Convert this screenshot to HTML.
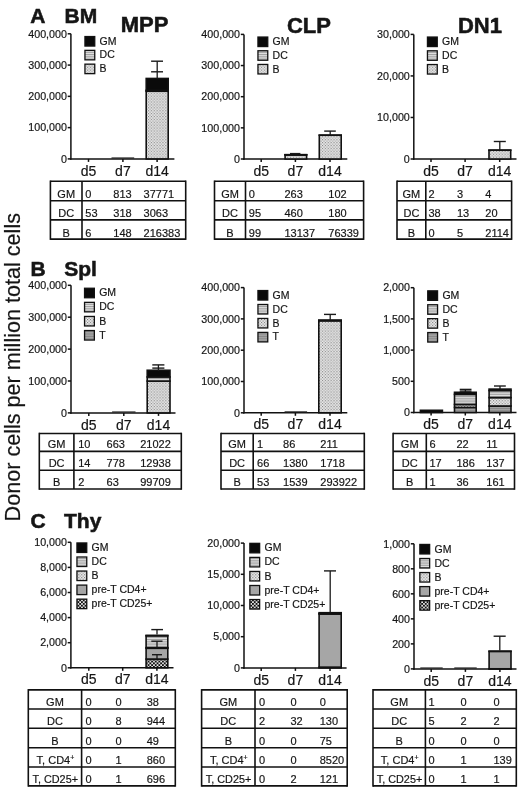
<!DOCTYPE html>
<html><head><meta charset="utf-8"><style>
html,body{margin:0;padding:0;background:#fff;overflow:hidden;width:520px;height:787px;}
svg{display:block;}
text{font-family:"Liberation Sans", sans-serif;fill:#151515;stroke:#151515;stroke-width:0.18px;}
text[font-weight=bold]{stroke-width:0.55px;}
svg{will-change:transform;}
</style></head><body>
<svg width="520" height="787" viewBox="0 0 520 787">
<defs>
<pattern id="pDC" width="4" height="1.8" patternUnits="userSpaceOnUse"><rect width="4" height="1.8" fill="#e2e2e2"/><rect y="0" width="4" height="0.75" fill="#909090"/></pattern>
<pattern id="pB" width="2.9" height="2.9" patternUnits="userSpaceOnUse"><rect width="2.9" height="2.9" fill="#f2f2f2"/><rect x="0" y="0" width="1.15" height="1.15" fill="#7a7a7a"/><rect x="1.45" y="1.45" width="1.15" height="1.15" fill="#7a7a7a"/></pattern>
<pattern id="pT" width="4" height="2.4" patternUnits="userSpaceOnUse"><rect width="4" height="2.4" fill="#a2a2a2"/><rect y="0" width="4" height="0.8" fill="#858585"/></pattern>
<pattern id="pCD4" width="4" height="4" patternUnits="userSpaceOnUse"><rect width="4" height="4" fill="#a6a6a6"/></pattern>
<pattern id="pCD25" width="3.6" height="3.6" patternUnits="userSpaceOnUse"><rect width="3.6" height="3.6" fill="#111"/><rect x="0.1" y="0.1" width="1.7" height="1.7" fill="#f4f4f4"/><rect x="1.9" y="1.9" width="1.7" height="1.7" fill="#f4f4f4"/></pattern>
</defs>
<rect width="520" height="787" fill="#fff"/>
<text x="30.20" y="23.40" font-size="21" text-anchor="start" font-weight="bold" >A</text>
<text x="64.60" y="23.40" font-size="21" text-anchor="start" font-weight="bold" >BM</text>
<text x="30.60" y="275.90" font-size="21" text-anchor="start" font-weight="bold" >B</text>
<text x="64.20" y="275.90" font-size="21" text-anchor="start" font-weight="bold" >Spl</text>
<text x="30.60" y="527.80" font-size="21" text-anchor="start" font-weight="bold" >C</text>
<text x="64.00" y="527.80" font-size="21" text-anchor="start" font-weight="bold" >Thy</text>
<text x="120.80" y="32.40" font-size="22" text-anchor="start" font-weight="bold" >MPP</text>
<text x="286.90" y="32.50" font-size="22" text-anchor="start" font-weight="bold" >CLP</text>
<text x="457.90" y="32.50" font-size="22" text-anchor="start" font-weight="bold" >DN1</text>
<text x="0" y="0" font-size="21.6" text-anchor="middle" transform="translate(20.2,367.2) rotate(-90)">Donor cells per million total cells</text>
<line x1="70.90" y1="33.80" x2="70.90" y2="159.65" stroke="#111" stroke-width="1.5"/>
<line x1="70.15" y1="158.90" x2="174.40" y2="158.90" stroke="#111" stroke-width="1.5"/>
<line x1="67.70" y1="33.80" x2="70.90" y2="33.80" stroke="#111" stroke-width="1.5"/>
<text x="66.90" y="37.50" font-size="10.7" text-anchor="end" font-weight="normal" >400,000</text>
<line x1="67.70" y1="65.08" x2="70.90" y2="65.08" stroke="#111" stroke-width="1.5"/>
<text x="66.90" y="68.78" font-size="10.7" text-anchor="end" font-weight="normal" >300,000</text>
<line x1="67.70" y1="96.35" x2="70.90" y2="96.35" stroke="#111" stroke-width="1.5"/>
<text x="66.90" y="100.05" font-size="10.7" text-anchor="end" font-weight="normal" >200,000</text>
<line x1="67.70" y1="127.62" x2="70.90" y2="127.62" stroke="#111" stroke-width="1.5"/>
<text x="66.90" y="131.32" font-size="10.7" text-anchor="end" font-weight="normal" >100,000</text>
<line x1="67.70" y1="158.90" x2="70.90" y2="158.90" stroke="#111" stroke-width="1.5"/>
<text x="66.90" y="162.60" font-size="10.7" text-anchor="end" font-weight="normal" >0</text>
<line x1="88.50" y1="158.90" x2="88.50" y2="161.90" stroke="#111" stroke-width="1.5"/>
<text x="88.50" y="175.50" font-size="14" text-anchor="middle" font-weight="normal" >d5</text>
<line x1="122.90" y1="158.90" x2="122.90" y2="161.90" stroke="#111" stroke-width="1.5"/>
<text x="122.90" y="175.50" font-size="14" text-anchor="middle" font-weight="normal" >d7</text>
<line x1="157.10" y1="158.90" x2="157.10" y2="161.90" stroke="#111" stroke-width="1.5"/>
<text x="157.10" y="175.50" font-size="14" text-anchor="middle" font-weight="normal" >d14</text>
<rect x="146.20" y="91.23" width="22.00" height="67.67" fill="url(#pB)" stroke="#111" stroke-width="1.6"/>
<rect x="146.20" y="90.27" width="22.00" height="0.96" fill="url(#pDC)" stroke="#111" stroke-width="1.6"/>
<rect x="146.20" y="78.46" width="22.00" height="11.81" fill="#0a0a0a" stroke="#111" stroke-width="1.6"/>
<line x1="111.50" y1="158.00" x2="134.20" y2="158.00" stroke="#222" stroke-width="1.2"/>
<line x1="157.20" y1="61.20" x2="157.20" y2="78.50" stroke="#1a1a1a" stroke-width="1.3"/>
<line x1="151.10" y1="61.20" x2="163.00" y2="61.20" stroke="#1a1a1a" stroke-width="1.4"/>
<line x1="151.10" y1="71.80" x2="163.00" y2="71.80" stroke="#1a1a1a" stroke-width="1.4"/>
<rect x="84.95" y="36.55" width="9.80" height="9.50" fill="#0a0a0a" stroke="#111" stroke-width="1.3"/>
<text x="99.60" y="44.60" font-size="10.5" text-anchor="start" font-weight="normal" >GM</text>
<rect x="84.95" y="50.35" width="9.80" height="9.50" fill="url(#pDC)" stroke="#111" stroke-width="1.3"/>
<text x="99.60" y="58.40" font-size="10.5" text-anchor="start" font-weight="normal" >DC</text>
<rect x="84.95" y="64.15" width="9.80" height="9.50" fill="url(#pB)" stroke="#111" stroke-width="1.3"/>
<text x="99.60" y="72.20" font-size="10.5" text-anchor="start" font-weight="normal" >B</text>
<line x1="244.00" y1="34.40" x2="244.00" y2="159.75" stroke="#111" stroke-width="1.5"/>
<line x1="243.25" y1="159.00" x2="347.30" y2="159.00" stroke="#111" stroke-width="1.5"/>
<line x1="240.80" y1="34.40" x2="244.00" y2="34.40" stroke="#111" stroke-width="1.5"/>
<text x="240.00" y="38.10" font-size="10.7" text-anchor="end" font-weight="normal" >400,000</text>
<line x1="240.80" y1="65.55" x2="244.00" y2="65.55" stroke="#111" stroke-width="1.5"/>
<text x="240.00" y="69.25" font-size="10.7" text-anchor="end" font-weight="normal" >300,000</text>
<line x1="240.80" y1="96.70" x2="244.00" y2="96.70" stroke="#111" stroke-width="1.5"/>
<text x="240.00" y="100.40" font-size="10.7" text-anchor="end" font-weight="normal" >200,000</text>
<line x1="240.80" y1="127.85" x2="244.00" y2="127.85" stroke="#111" stroke-width="1.5"/>
<text x="240.00" y="131.55" font-size="10.7" text-anchor="end" font-weight="normal" >100,000</text>
<line x1="240.80" y1="159.00" x2="244.00" y2="159.00" stroke="#111" stroke-width="1.5"/>
<text x="240.00" y="162.70" font-size="10.7" text-anchor="end" font-weight="normal" >0</text>
<line x1="261.20" y1="159.00" x2="261.20" y2="162.00" stroke="#111" stroke-width="1.5"/>
<text x="261.20" y="175.60" font-size="14" text-anchor="middle" font-weight="normal" >d5</text>
<line x1="295.40" y1="159.00" x2="295.40" y2="162.00" stroke="#111" stroke-width="1.5"/>
<text x="295.40" y="175.60" font-size="14" text-anchor="middle" font-weight="normal" >d7</text>
<line x1="330.00" y1="159.00" x2="330.00" y2="162.00" stroke="#111" stroke-width="1.5"/>
<text x="330.00" y="175.60" font-size="14" text-anchor="middle" font-weight="normal" >d14</text>
<rect x="285.10" y="154.91" width="21.50" height="4.09" fill="url(#pB)" stroke="#111" stroke-width="1.6"/>
<rect x="285.10" y="154.76" width="21.50" height="0.14" fill="url(#pDC)" stroke="#111" stroke-width="1.6"/>
<rect x="285.10" y="154.68" width="21.50" height="0.08" fill="#0a0a0a" stroke="#111" stroke-width="1.6"/>
<rect x="319.30" y="135.22" width="21.90" height="23.78" fill="url(#pB)" stroke="#111" stroke-width="1.6"/>
<rect x="319.30" y="135.16" width="21.90" height="0.06" fill="url(#pDC)" stroke="#111" stroke-width="1.6"/>
<line x1="330.20" y1="131.10" x2="330.20" y2="135.30" stroke="#1a1a1a" stroke-width="1.3"/>
<line x1="324.20" y1="131.10" x2="335.80" y2="131.10" stroke="#1a1a1a" stroke-width="1.4"/>
<line x1="295.85" y1="153.60" x2="295.85" y2="154.80" stroke="#1a1a1a" stroke-width="1.3"/>
<line x1="290.00" y1="153.60" x2="300.40" y2="153.60" stroke="#1a1a1a" stroke-width="1.4"/>
<rect x="257.95" y="37.05" width="9.80" height="9.50" fill="#0a0a0a" stroke="#111" stroke-width="1.3"/>
<text x="272.60" y="45.10" font-size="10.5" text-anchor="start" font-weight="normal" >GM</text>
<rect x="257.95" y="50.75" width="9.80" height="9.50" fill="url(#pDC)" stroke="#111" stroke-width="1.3"/>
<text x="272.60" y="58.80" font-size="10.5" text-anchor="start" font-weight="normal" >DC</text>
<rect x="257.95" y="64.45" width="9.80" height="9.50" fill="url(#pB)" stroke="#111" stroke-width="1.3"/>
<text x="272.60" y="72.50" font-size="10.5" text-anchor="start" font-weight="normal" >B</text>
<line x1="413.80" y1="34.40" x2="413.80" y2="159.75" stroke="#111" stroke-width="1.5"/>
<line x1="413.05" y1="159.00" x2="516.50" y2="159.00" stroke="#111" stroke-width="1.5"/>
<line x1="410.60" y1="34.40" x2="413.80" y2="34.40" stroke="#111" stroke-width="1.5"/>
<text x="409.80" y="38.10" font-size="10.7" text-anchor="end" font-weight="normal" >30,000</text>
<line x1="410.60" y1="75.93" x2="413.80" y2="75.93" stroke="#111" stroke-width="1.5"/>
<text x="409.80" y="79.63" font-size="10.7" text-anchor="end" font-weight="normal" >20,000</text>
<line x1="410.60" y1="117.47" x2="413.80" y2="117.47" stroke="#111" stroke-width="1.5"/>
<text x="409.80" y="121.17" font-size="10.7" text-anchor="end" font-weight="normal" >10,000</text>
<line x1="410.60" y1="159.00" x2="413.80" y2="159.00" stroke="#111" stroke-width="1.5"/>
<text x="409.80" y="162.70" font-size="10.7" text-anchor="end" font-weight="normal" >0</text>
<line x1="431.00" y1="159.00" x2="431.00" y2="162.00" stroke="#111" stroke-width="1.5"/>
<text x="431.00" y="175.60" font-size="14" text-anchor="middle" font-weight="normal" >d5</text>
<line x1="465.10" y1="159.00" x2="465.10" y2="162.00" stroke="#111" stroke-width="1.5"/>
<text x="465.10" y="175.60" font-size="14" text-anchor="middle" font-weight="normal" >d7</text>
<line x1="499.70" y1="159.00" x2="499.70" y2="162.00" stroke="#111" stroke-width="1.5"/>
<text x="499.70" y="175.60" font-size="14" text-anchor="middle" font-weight="normal" >d14</text>
<rect x="489.00" y="150.22" width="21.70" height="8.78" fill="url(#pB)" stroke="#111" stroke-width="1.6"/>
<rect x="489.00" y="150.14" width="21.70" height="0.08" fill="url(#pDC)" stroke="#111" stroke-width="1.6"/>
<line x1="499.80" y1="141.50" x2="499.80" y2="150.00" stroke="#1a1a1a" stroke-width="1.3"/>
<line x1="493.80" y1="141.50" x2="505.80" y2="141.50" stroke="#1a1a1a" stroke-width="1.4"/>
<rect x="427.45" y="37.05" width="9.80" height="9.50" fill="#0a0a0a" stroke="#111" stroke-width="1.3"/>
<text x="442.10" y="45.10" font-size="10.5" text-anchor="start" font-weight="normal" >GM</text>
<rect x="427.45" y="50.80" width="9.80" height="9.50" fill="url(#pDC)" stroke="#111" stroke-width="1.3"/>
<text x="442.10" y="58.85" font-size="10.5" text-anchor="start" font-weight="normal" >DC</text>
<rect x="427.45" y="64.55" width="9.80" height="9.50" fill="url(#pB)" stroke="#111" stroke-width="1.3"/>
<text x="442.10" y="72.60" font-size="10.5" text-anchor="start" font-weight="normal" >B</text>
<line x1="71.00" y1="285.30" x2="71.00" y2="413.65" stroke="#111" stroke-width="1.5"/>
<line x1="70.25" y1="412.90" x2="175.50" y2="412.90" stroke="#111" stroke-width="1.5"/>
<line x1="67.80" y1="285.30" x2="71.00" y2="285.30" stroke="#111" stroke-width="1.5"/>
<text x="67.00" y="289.00" font-size="10.7" text-anchor="end" font-weight="normal" >400,000</text>
<line x1="67.80" y1="317.20" x2="71.00" y2="317.20" stroke="#111" stroke-width="1.5"/>
<text x="67.00" y="320.90" font-size="10.7" text-anchor="end" font-weight="normal" >300,000</text>
<line x1="67.80" y1="349.10" x2="71.00" y2="349.10" stroke="#111" stroke-width="1.5"/>
<text x="67.00" y="352.80" font-size="10.7" text-anchor="end" font-weight="normal" >200,000</text>
<line x1="67.80" y1="381.00" x2="71.00" y2="381.00" stroke="#111" stroke-width="1.5"/>
<text x="67.00" y="384.70" font-size="10.7" text-anchor="end" font-weight="normal" >100,000</text>
<line x1="67.80" y1="412.90" x2="71.00" y2="412.90" stroke="#111" stroke-width="1.5"/>
<text x="67.00" y="416.60" font-size="10.7" text-anchor="end" font-weight="normal" >0</text>
<line x1="88.80" y1="412.90" x2="88.80" y2="415.90" stroke="#111" stroke-width="1.5"/>
<text x="88.80" y="429.50" font-size="14" text-anchor="middle" font-weight="normal" >d5</text>
<line x1="123.80" y1="412.90" x2="123.80" y2="415.90" stroke="#111" stroke-width="1.5"/>
<text x="123.80" y="429.50" font-size="14" text-anchor="middle" font-weight="normal" >d7</text>
<line x1="158.50" y1="412.90" x2="158.50" y2="415.90" stroke="#111" stroke-width="1.5"/>
<text x="158.50" y="429.50" font-size="14" text-anchor="middle" font-weight="normal" >d14</text>
<rect x="147.20" y="381.09" width="22.80" height="31.81" fill="url(#pB)" stroke="#111" stroke-width="1.6"/>
<rect x="147.20" y="376.97" width="22.80" height="4.13" fill="url(#pDC)" stroke="#111" stroke-width="1.6"/>
<rect x="147.20" y="370.26" width="22.80" height="6.71" fill="#0a0a0a" stroke="#111" stroke-width="1.6"/>
<line x1="112.10" y1="412.00" x2="135.50" y2="412.00" stroke="#222" stroke-width="1.2"/>
<line x1="158.40" y1="364.90" x2="158.40" y2="371.00" stroke="#1a1a1a" stroke-width="1.3"/>
<line x1="152.30" y1="364.90" x2="164.40" y2="364.90" stroke="#1a1a1a" stroke-width="1.4"/>
<line x1="152.30" y1="368.10" x2="164.40" y2="368.10" stroke="#1a1a1a" stroke-width="1.4"/>
<rect x="84.55" y="288.25" width="9.80" height="9.50" fill="#0a0a0a" stroke="#111" stroke-width="1.3"/>
<text x="99.20" y="296.30" font-size="10.5" text-anchor="start" font-weight="normal" >GM</text>
<rect x="84.55" y="302.35" width="9.80" height="9.50" fill="url(#pDC)" stroke="#111" stroke-width="1.3"/>
<text x="99.20" y="310.40" font-size="10.5" text-anchor="start" font-weight="normal" >DC</text>
<rect x="84.55" y="316.45" width="9.80" height="9.50" fill="url(#pB)" stroke="#111" stroke-width="1.3"/>
<text x="99.20" y="324.50" font-size="10.5" text-anchor="start" font-weight="normal" >B</text>
<rect x="84.55" y="330.55" width="9.80" height="9.50" fill="url(#pT)" stroke="#111" stroke-width="1.3"/>
<text x="99.20" y="338.60" font-size="10.5" text-anchor="start" font-weight="normal" >T</text>
<line x1="244.00" y1="287.60" x2="244.00" y2="413.55" stroke="#111" stroke-width="1.5"/>
<line x1="243.25" y1="412.80" x2="347.30" y2="412.80" stroke="#111" stroke-width="1.5"/>
<line x1="240.80" y1="287.60" x2="244.00" y2="287.60" stroke="#111" stroke-width="1.5"/>
<text x="240.00" y="291.30" font-size="10.7" text-anchor="end" font-weight="normal" >400,000</text>
<line x1="240.80" y1="318.90" x2="244.00" y2="318.90" stroke="#111" stroke-width="1.5"/>
<text x="240.00" y="322.60" font-size="10.7" text-anchor="end" font-weight="normal" >300,000</text>
<line x1="240.80" y1="350.20" x2="244.00" y2="350.20" stroke="#111" stroke-width="1.5"/>
<text x="240.00" y="353.90" font-size="10.7" text-anchor="end" font-weight="normal" >200,000</text>
<line x1="240.80" y1="381.50" x2="244.00" y2="381.50" stroke="#111" stroke-width="1.5"/>
<text x="240.00" y="385.20" font-size="10.7" text-anchor="end" font-weight="normal" >100,000</text>
<line x1="240.80" y1="412.80" x2="244.00" y2="412.80" stroke="#111" stroke-width="1.5"/>
<text x="240.00" y="416.50" font-size="10.7" text-anchor="end" font-weight="normal" >0</text>
<line x1="261.20" y1="412.80" x2="261.20" y2="415.80" stroke="#111" stroke-width="1.5"/>
<text x="261.20" y="429.40" font-size="14" text-anchor="middle" font-weight="normal" >d5</text>
<line x1="295.40" y1="412.80" x2="295.40" y2="415.80" stroke="#111" stroke-width="1.5"/>
<text x="295.40" y="429.40" font-size="14" text-anchor="middle" font-weight="normal" >d7</text>
<line x1="330.00" y1="412.80" x2="330.00" y2="415.80" stroke="#111" stroke-width="1.5"/>
<text x="330.00" y="429.40" font-size="14" text-anchor="middle" font-weight="normal" >d14</text>
<line x1="284.60" y1="411.90" x2="307.10" y2="411.90" stroke="#222" stroke-width="1.2"/>
<rect x="318.80" y="320.80" width="22.40" height="92.00" fill="url(#pB)" stroke="#111" stroke-width="1.6"/>
<rect x="318.80" y="320.26" width="22.40" height="0.54" fill="url(#pDC)" stroke="#111" stroke-width="1.6"/>
<rect x="318.80" y="320.20" width="22.40" height="0.07" fill="#0a0a0a" stroke="#111" stroke-width="1.6"/>
<line x1="330.20" y1="314.40" x2="330.20" y2="320.50" stroke="#1a1a1a" stroke-width="1.3"/>
<line x1="324.00" y1="314.40" x2="336.00" y2="314.40" stroke="#1a1a1a" stroke-width="1.4"/>
<rect x="257.95" y="290.55" width="9.80" height="9.50" fill="#0a0a0a" stroke="#111" stroke-width="1.3"/>
<text x="272.60" y="298.60" font-size="10.5" text-anchor="start" font-weight="normal" >GM</text>
<rect x="257.95" y="304.50" width="9.80" height="9.50" fill="url(#pDC)" stroke="#111" stroke-width="1.3"/>
<text x="272.60" y="312.55" font-size="10.5" text-anchor="start" font-weight="normal" >DC</text>
<rect x="257.95" y="318.45" width="9.80" height="9.50" fill="url(#pB)" stroke="#111" stroke-width="1.3"/>
<text x="272.60" y="326.50" font-size="10.5" text-anchor="start" font-weight="normal" >B</text>
<rect x="257.95" y="332.40" width="9.80" height="9.50" fill="url(#pT)" stroke="#111" stroke-width="1.3"/>
<text x="272.60" y="340.45" font-size="10.5" text-anchor="start" font-weight="normal" >T</text>
<line x1="413.90" y1="287.70" x2="413.90" y2="413.25" stroke="#111" stroke-width="1.5"/>
<line x1="413.15" y1="412.50" x2="516.50" y2="412.50" stroke="#111" stroke-width="1.5"/>
<line x1="410.70" y1="287.70" x2="413.90" y2="287.70" stroke="#111" stroke-width="1.5"/>
<text x="409.90" y="291.40" font-size="10.7" text-anchor="end" font-weight="normal" >2,000</text>
<line x1="410.70" y1="318.90" x2="413.90" y2="318.90" stroke="#111" stroke-width="1.5"/>
<text x="409.90" y="322.60" font-size="10.7" text-anchor="end" font-weight="normal" >1,500</text>
<line x1="410.70" y1="350.10" x2="413.90" y2="350.10" stroke="#111" stroke-width="1.5"/>
<text x="409.90" y="353.80" font-size="10.7" text-anchor="end" font-weight="normal" >1,000</text>
<line x1="410.70" y1="381.30" x2="413.90" y2="381.30" stroke="#111" stroke-width="1.5"/>
<text x="409.90" y="385.00" font-size="10.7" text-anchor="end" font-weight="normal" >500</text>
<line x1="410.70" y1="412.50" x2="413.90" y2="412.50" stroke="#111" stroke-width="1.5"/>
<text x="409.90" y="416.20" font-size="10.7" text-anchor="end" font-weight="normal" >0</text>
<line x1="431.10" y1="412.50" x2="431.10" y2="415.50" stroke="#111" stroke-width="1.5"/>
<text x="431.10" y="429.10" font-size="14" text-anchor="middle" font-weight="normal" >d5</text>
<line x1="465.30" y1="412.50" x2="465.30" y2="415.50" stroke="#111" stroke-width="1.5"/>
<text x="465.30" y="429.10" font-size="14" text-anchor="middle" font-weight="normal" >d7</text>
<line x1="499.80" y1="412.50" x2="499.80" y2="415.50" stroke="#111" stroke-width="1.5"/>
<text x="499.80" y="429.10" font-size="14" text-anchor="middle" font-weight="normal" >d14</text>
<rect x="420.40" y="410.30" width="22.00" height="2.20" fill="#0a0a0a" stroke="#111" stroke-width="1.6"/>
<rect x="454.50" y="407.40" width="21.70" height="5.10" fill="url(#pT)" stroke="#111" stroke-width="1.6"/>
<rect x="454.50" y="404.50" width="21.70" height="2.90" fill="url(#pB)" stroke="#111" stroke-width="1.6"/>
<rect x="454.50" y="394.40" width="21.70" height="10.10" fill="url(#pDC)" stroke="#111" stroke-width="1.6"/>
<rect x="454.50" y="392.30" width="21.70" height="2.10" fill="#0a0a0a" stroke="#111" stroke-width="1.6"/>
<rect x="489.10" y="406.00" width="21.90" height="6.50" fill="url(#pT)" stroke="#111" stroke-width="1.6"/>
<rect x="489.10" y="397.60" width="21.90" height="8.40" fill="url(#pB)" stroke="#111" stroke-width="1.6"/>
<rect x="489.10" y="390.50" width="21.90" height="7.10" fill="url(#pDC)" stroke="#111" stroke-width="1.6"/>
<rect x="489.10" y="389.10" width="21.90" height="1.40" fill="#0a0a0a" stroke="#111" stroke-width="1.6"/>
<line x1="465.40" y1="389.40" x2="465.40" y2="392.30" stroke="#1a1a1a" stroke-width="1.3"/>
<line x1="459.70" y1="389.40" x2="471.50" y2="389.40" stroke="#1a1a1a" stroke-width="1.4"/>
<line x1="459.70" y1="391.10" x2="471.50" y2="391.10" stroke="#1a1a1a" stroke-width="1.4"/>
<line x1="500.00" y1="386.00" x2="500.00" y2="389.10" stroke="#1a1a1a" stroke-width="1.3"/>
<line x1="494.00" y1="386.00" x2="505.80" y2="386.00" stroke="#1a1a1a" stroke-width="1.4"/>
<rect x="427.75" y="290.85" width="9.80" height="9.50" fill="#0a0a0a" stroke="#111" stroke-width="1.3"/>
<text x="442.40" y="298.90" font-size="10.5" text-anchor="start" font-weight="normal" >GM</text>
<rect x="427.75" y="304.75" width="9.80" height="9.50" fill="url(#pDC)" stroke="#111" stroke-width="1.3"/>
<text x="442.40" y="312.80" font-size="10.5" text-anchor="start" font-weight="normal" >DC</text>
<rect x="427.75" y="318.65" width="9.80" height="9.50" fill="url(#pB)" stroke="#111" stroke-width="1.3"/>
<text x="442.40" y="326.70" font-size="10.5" text-anchor="start" font-weight="normal" >B</text>
<rect x="427.75" y="332.55" width="9.80" height="9.50" fill="url(#pT)" stroke="#111" stroke-width="1.3"/>
<text x="442.40" y="340.60" font-size="10.5" text-anchor="start" font-weight="normal" >T</text>
<line x1="70.90" y1="542.30" x2="70.90" y2="668.55" stroke="#111" stroke-width="1.5"/>
<line x1="70.15" y1="667.80" x2="173.50" y2="667.80" stroke="#111" stroke-width="1.5"/>
<line x1="67.70" y1="542.30" x2="70.90" y2="542.30" stroke="#111" stroke-width="1.5"/>
<text x="66.90" y="546.00" font-size="10.7" text-anchor="end" font-weight="normal" >10,000</text>
<line x1="67.70" y1="567.40" x2="70.90" y2="567.40" stroke="#111" stroke-width="1.5"/>
<text x="66.90" y="571.10" font-size="10.7" text-anchor="end" font-weight="normal" >8,000</text>
<line x1="67.70" y1="592.50" x2="70.90" y2="592.50" stroke="#111" stroke-width="1.5"/>
<text x="66.90" y="596.20" font-size="10.7" text-anchor="end" font-weight="normal" >6,000</text>
<line x1="67.70" y1="617.60" x2="70.90" y2="617.60" stroke="#111" stroke-width="1.5"/>
<text x="66.90" y="621.30" font-size="10.7" text-anchor="end" font-weight="normal" >4,000</text>
<line x1="67.70" y1="642.70" x2="70.90" y2="642.70" stroke="#111" stroke-width="1.5"/>
<text x="66.90" y="646.40" font-size="10.7" text-anchor="end" font-weight="normal" >2,000</text>
<line x1="67.70" y1="667.80" x2="70.90" y2="667.80" stroke="#111" stroke-width="1.5"/>
<text x="66.90" y="671.50" font-size="10.7" text-anchor="end" font-weight="normal" >0</text>
<line x1="88.80" y1="667.80" x2="88.80" y2="670.80" stroke="#111" stroke-width="1.5"/>
<text x="88.80" y="684.40" font-size="14" text-anchor="middle" font-weight="normal" >d5</text>
<line x1="122.70" y1="667.80" x2="122.70" y2="670.80" stroke="#111" stroke-width="1.5"/>
<text x="122.70" y="684.40" font-size="14" text-anchor="middle" font-weight="normal" >d7</text>
<line x1="156.90" y1="667.80" x2="156.90" y2="670.80" stroke="#111" stroke-width="1.5"/>
<text x="156.90" y="684.40" font-size="14" text-anchor="middle" font-weight="normal" >d14</text>
<rect x="146.10" y="659.07" width="21.70" height="8.73" fill="url(#pCD25)" stroke="#111" stroke-width="1.6"/>
<rect x="146.10" y="648.27" width="21.70" height="10.79" fill="url(#pCD4)" stroke="#111" stroke-width="1.6"/>
<rect x="146.10" y="647.66" width="21.70" height="0.61" fill="url(#pB)" stroke="#111" stroke-width="1.6"/>
<rect x="146.10" y="635.81" width="21.70" height="11.85" fill="url(#pDC)" stroke="#111" stroke-width="1.6"/>
<rect x="146.10" y="635.33" width="21.70" height="0.48" fill="#0a0a0a" stroke="#111" stroke-width="1.6"/>
<line x1="157.00" y1="629.60" x2="157.00" y2="634.40" stroke="#1a1a1a" stroke-width="1.3"/>
<line x1="151.30" y1="629.60" x2="163.00" y2="629.60" stroke="#1a1a1a" stroke-width="1.4"/>
<line x1="157.00" y1="641.20" x2="157.00" y2="648.00" stroke="#1a1a1a" stroke-width="1.3"/>
<line x1="151.30" y1="641.20" x2="162.50" y2="641.20" stroke="#1a1a1a" stroke-width="1.4"/>
<line x1="157.00" y1="654.70" x2="157.00" y2="659.50" stroke="#1a1a1a" stroke-width="1.3"/>
<line x1="152.00" y1="654.70" x2="162.00" y2="654.70" stroke="#1a1a1a" stroke-width="1.4"/>
<rect x="76.95" y="542.95" width="9.80" height="9.50" fill="#0a0a0a" stroke="#111" stroke-width="1.3"/>
<text x="91.60" y="551.00" font-size="10.5" text-anchor="start" font-weight="normal" >GM</text>
<rect x="76.95" y="557.00" width="9.80" height="9.50" fill="url(#pDC)" stroke="#111" stroke-width="1.3"/>
<text x="91.60" y="565.05" font-size="10.5" text-anchor="start" font-weight="normal" >DC</text>
<rect x="76.95" y="571.05" width="9.80" height="9.50" fill="url(#pB)" stroke="#111" stroke-width="1.3"/>
<text x="91.60" y="579.10" font-size="10.5" text-anchor="start" font-weight="normal" >B</text>
<rect x="76.95" y="585.10" width="9.80" height="9.50" fill="url(#pCD4)" stroke="#111" stroke-width="1.3"/>
<text x="91.60" y="593.15" font-size="10.5" text-anchor="start" font-weight="normal" >pre-T CD4+</text>
<rect x="76.95" y="599.15" width="9.80" height="9.50" fill="url(#pCD25)" stroke="#111" stroke-width="1.3"/>
<text x="91.60" y="607.20" font-size="10.5" text-anchor="start" font-weight="normal" >pre-T CD25+</text>
<line x1="244.00" y1="543.10" x2="244.00" y2="668.65" stroke="#111" stroke-width="1.5"/>
<line x1="243.25" y1="667.90" x2="346.60" y2="667.90" stroke="#111" stroke-width="1.5"/>
<line x1="240.80" y1="543.10" x2="244.00" y2="543.10" stroke="#111" stroke-width="1.5"/>
<text x="240.00" y="546.80" font-size="10.7" text-anchor="end" font-weight="normal" >20,000</text>
<line x1="240.80" y1="574.30" x2="244.00" y2="574.30" stroke="#111" stroke-width="1.5"/>
<text x="240.00" y="578.00" font-size="10.7" text-anchor="end" font-weight="normal" >15,000</text>
<line x1="240.80" y1="605.50" x2="244.00" y2="605.50" stroke="#111" stroke-width="1.5"/>
<text x="240.00" y="609.20" font-size="10.7" text-anchor="end" font-weight="normal" >10,000</text>
<line x1="240.80" y1="636.70" x2="244.00" y2="636.70" stroke="#111" stroke-width="1.5"/>
<text x="240.00" y="640.40" font-size="10.7" text-anchor="end" font-weight="normal" >5,000</text>
<line x1="240.80" y1="667.90" x2="244.00" y2="667.90" stroke="#111" stroke-width="1.5"/>
<text x="240.00" y="671.60" font-size="10.7" text-anchor="end" font-weight="normal" >0</text>
<line x1="261.20" y1="667.90" x2="261.20" y2="670.90" stroke="#111" stroke-width="1.5"/>
<text x="261.20" y="684.50" font-size="14" text-anchor="middle" font-weight="normal" >d5</text>
<line x1="295.40" y1="667.90" x2="295.40" y2="670.90" stroke="#111" stroke-width="1.5"/>
<text x="295.40" y="684.50" font-size="14" text-anchor="middle" font-weight="normal" >d7</text>
<line x1="330.00" y1="667.90" x2="330.00" y2="670.90" stroke="#111" stroke-width="1.5"/>
<text x="330.00" y="684.50" font-size="14" text-anchor="middle" font-weight="normal" >d14</text>
<rect x="319.10" y="667.14" width="22.10" height="0.76" fill="url(#pCD25)" stroke="#111" stroke-width="1.6"/>
<rect x="319.10" y="613.98" width="22.10" height="53.16" fill="url(#pCD4)" stroke="#111" stroke-width="1.6"/>
<rect x="319.10" y="613.51" width="22.10" height="0.47" fill="url(#pB)" stroke="#111" stroke-width="1.6"/>
<rect x="319.10" y="612.70" width="22.10" height="0.81" fill="url(#pDC)" stroke="#111" stroke-width="1.6"/>
<line x1="330.20" y1="570.90" x2="330.20" y2="612.50" stroke="#1a1a1a" stroke-width="1.3"/>
<line x1="324.00" y1="570.90" x2="336.00" y2="570.90" stroke="#1a1a1a" stroke-width="1.4"/>
<rect x="249.85" y="543.35" width="9.80" height="9.50" fill="#0a0a0a" stroke="#111" stroke-width="1.3"/>
<text x="264.50" y="551.40" font-size="10.5" text-anchor="start" font-weight="normal" >GM</text>
<rect x="249.85" y="557.40" width="9.80" height="9.50" fill="url(#pDC)" stroke="#111" stroke-width="1.3"/>
<text x="264.50" y="565.45" font-size="10.5" text-anchor="start" font-weight="normal" >DC</text>
<rect x="249.85" y="571.45" width="9.80" height="9.50" fill="url(#pB)" stroke="#111" stroke-width="1.3"/>
<text x="264.50" y="579.50" font-size="10.5" text-anchor="start" font-weight="normal" >B</text>
<rect x="249.85" y="585.50" width="9.80" height="9.50" fill="url(#pCD4)" stroke="#111" stroke-width="1.3"/>
<text x="264.50" y="593.55" font-size="10.5" text-anchor="start" font-weight="normal" >pre-T CD4+</text>
<rect x="249.85" y="599.55" width="9.80" height="9.50" fill="url(#pCD25)" stroke="#111" stroke-width="1.3"/>
<text x="264.50" y="607.60" font-size="10.5" text-anchor="start" font-weight="normal" >pre-T CD25+</text>
<line x1="414.00" y1="543.80" x2="414.00" y2="669.65" stroke="#111" stroke-width="1.5"/>
<line x1="413.25" y1="668.90" x2="516.50" y2="668.90" stroke="#111" stroke-width="1.5"/>
<line x1="410.80" y1="543.80" x2="414.00" y2="543.80" stroke="#111" stroke-width="1.5"/>
<text x="410.00" y="547.50" font-size="10.7" text-anchor="end" font-weight="normal" >1,000</text>
<line x1="410.80" y1="568.82" x2="414.00" y2="568.82" stroke="#111" stroke-width="1.5"/>
<text x="410.00" y="572.52" font-size="10.7" text-anchor="end" font-weight="normal" >800</text>
<line x1="410.80" y1="593.84" x2="414.00" y2="593.84" stroke="#111" stroke-width="1.5"/>
<text x="410.00" y="597.54" font-size="10.7" text-anchor="end" font-weight="normal" >600</text>
<line x1="410.80" y1="618.86" x2="414.00" y2="618.86" stroke="#111" stroke-width="1.5"/>
<text x="410.00" y="622.56" font-size="10.7" text-anchor="end" font-weight="normal" >400</text>
<line x1="410.80" y1="643.88" x2="414.00" y2="643.88" stroke="#111" stroke-width="1.5"/>
<text x="410.00" y="647.58" font-size="10.7" text-anchor="end" font-weight="normal" >200</text>
<line x1="410.80" y1="668.90" x2="414.00" y2="668.90" stroke="#111" stroke-width="1.5"/>
<text x="410.00" y="672.60" font-size="10.7" text-anchor="end" font-weight="normal" >0</text>
<line x1="431.20" y1="668.90" x2="431.20" y2="671.90" stroke="#111" stroke-width="1.5"/>
<text x="431.20" y="685.50" font-size="14" text-anchor="middle" font-weight="normal" >d5</text>
<line x1="465.40" y1="668.90" x2="465.40" y2="671.90" stroke="#111" stroke-width="1.5"/>
<text x="465.40" y="685.50" font-size="14" text-anchor="middle" font-weight="normal" >d7</text>
<line x1="499.90" y1="668.90" x2="499.90" y2="671.90" stroke="#111" stroke-width="1.5"/>
<text x="499.90" y="685.50" font-size="14" text-anchor="middle" font-weight="normal" >d14</text>
<rect x="489.10" y="668.77" width="21.90" height="0.13" fill="url(#pCD25)" stroke="#111" stroke-width="1.6"/>
<rect x="489.10" y="651.39" width="21.90" height="17.39" fill="url(#pCD4)" stroke="#111" stroke-width="1.6"/>
<rect x="489.10" y="651.14" width="21.90" height="0.25" fill="url(#pDC)" stroke="#111" stroke-width="1.6"/>
<line x1="420.30" y1="668.00" x2="442.70" y2="668.00" stroke="#222" stroke-width="1.2"/>
<line x1="454.30" y1="668.00" x2="476.70" y2="668.00" stroke="#222" stroke-width="1.2"/>
<line x1="499.80" y1="636.20" x2="499.80" y2="650.50" stroke="#1a1a1a" stroke-width="1.3"/>
<line x1="493.60" y1="636.20" x2="505.70" y2="636.20" stroke="#1a1a1a" stroke-width="1.4"/>
<rect x="419.85" y="544.45" width="9.80" height="9.50" fill="#0a0a0a" stroke="#111" stroke-width="1.3"/>
<text x="434.50" y="552.50" font-size="10.5" text-anchor="start" font-weight="normal" >GM</text>
<rect x="419.85" y="558.50" width="9.80" height="9.50" fill="url(#pDC)" stroke="#111" stroke-width="1.3"/>
<text x="434.50" y="566.55" font-size="10.5" text-anchor="start" font-weight="normal" >DC</text>
<rect x="419.85" y="572.55" width="9.80" height="9.50" fill="url(#pB)" stroke="#111" stroke-width="1.3"/>
<text x="434.50" y="580.60" font-size="10.5" text-anchor="start" font-weight="normal" >B</text>
<rect x="419.85" y="586.60" width="9.80" height="9.50" fill="url(#pCD4)" stroke="#111" stroke-width="1.3"/>
<text x="434.50" y="594.65" font-size="10.5" text-anchor="start" font-weight="normal" >pre-T CD4+</text>
<rect x="419.85" y="600.65" width="9.80" height="9.50" fill="url(#pCD25)" stroke="#111" stroke-width="1.3"/>
<text x="434.50" y="608.70" font-size="10.5" text-anchor="start" font-weight="normal" >pre-T CD25+</text>
<line x1="50.40" y1="181.30" x2="185.70" y2="181.30" stroke="#111" stroke-width="1.6"/>
<line x1="50.40" y1="239.10" x2="185.70" y2="239.10" stroke="#111" stroke-width="1.6"/>
<line x1="50.40" y1="200.70" x2="185.70" y2="200.70" stroke="#111" stroke-width="1.6"/>
<line x1="50.40" y1="219.90" x2="185.70" y2="219.90" stroke="#111" stroke-width="1.6"/>
<line x1="50.40" y1="180.50" x2="50.40" y2="239.90" stroke="#111" stroke-width="1.6"/>
<line x1="185.70" y1="180.50" x2="185.70" y2="239.90" stroke="#111" stroke-width="1.6"/>
<line x1="82.00" y1="181.30" x2="82.00" y2="239.10" stroke="#111" stroke-width="1.6"/>
<text x="66.20" y="198.10" font-size="11" text-anchor="middle" font-weight="normal" >GM</text>
<text x="85.30" y="198.10" font-size="11" text-anchor="start" font-weight="normal" >0</text>
<text x="113.30" y="198.10" font-size="11" text-anchor="start" font-weight="normal" >813</text>
<text x="143.60" y="198.10" font-size="11" text-anchor="start" font-weight="normal" >37771</text>
<text x="66.20" y="217.30" font-size="11" text-anchor="middle" font-weight="normal" >DC</text>
<text x="85.30" y="217.30" font-size="11" text-anchor="start" font-weight="normal" >53</text>
<text x="113.30" y="217.30" font-size="11" text-anchor="start" font-weight="normal" >318</text>
<text x="143.60" y="217.30" font-size="11" text-anchor="start" font-weight="normal" >3063</text>
<text x="66.20" y="236.50" font-size="11" text-anchor="middle" font-weight="normal" >B</text>
<text x="85.30" y="236.50" font-size="11" text-anchor="start" font-weight="normal" >6</text>
<text x="113.30" y="236.50" font-size="11" text-anchor="start" font-weight="normal" >148</text>
<text x="143.60" y="236.50" font-size="11" text-anchor="start" font-weight="normal" >216383</text>
<line x1="214.50" y1="181.30" x2="363.60" y2="181.30" stroke="#111" stroke-width="1.6"/>
<line x1="214.50" y1="239.10" x2="363.60" y2="239.10" stroke="#111" stroke-width="1.6"/>
<line x1="214.50" y1="200.70" x2="363.60" y2="200.70" stroke="#111" stroke-width="1.6"/>
<line x1="214.50" y1="219.90" x2="363.60" y2="219.90" stroke="#111" stroke-width="1.6"/>
<line x1="214.50" y1="180.50" x2="214.50" y2="239.90" stroke="#111" stroke-width="1.6"/>
<line x1="363.60" y1="180.50" x2="363.60" y2="239.90" stroke="#111" stroke-width="1.6"/>
<line x1="245.50" y1="181.30" x2="245.50" y2="239.10" stroke="#111" stroke-width="1.6"/>
<text x="230.00" y="198.10" font-size="11" text-anchor="middle" font-weight="normal" >GM</text>
<text x="248.80" y="198.10" font-size="11" text-anchor="start" font-weight="normal" >0</text>
<text x="284.50" y="198.10" font-size="11" text-anchor="start" font-weight="normal" >263</text>
<text x="328.30" y="198.10" font-size="11" text-anchor="start" font-weight="normal" >102</text>
<text x="230.00" y="217.30" font-size="11" text-anchor="middle" font-weight="normal" >DC</text>
<text x="248.80" y="217.30" font-size="11" text-anchor="start" font-weight="normal" >95</text>
<text x="284.50" y="217.30" font-size="11" text-anchor="start" font-weight="normal" >460</text>
<text x="328.30" y="217.30" font-size="11" text-anchor="start" font-weight="normal" >180</text>
<text x="230.00" y="236.50" font-size="11" text-anchor="middle" font-weight="normal" >B</text>
<text x="248.80" y="236.50" font-size="11" text-anchor="start" font-weight="normal" >99</text>
<text x="284.50" y="236.50" font-size="11" text-anchor="start" font-weight="normal" >13137</text>
<text x="328.30" y="236.50" font-size="11" text-anchor="start" font-weight="normal" >76339</text>
<line x1="397.00" y1="181.30" x2="511.60" y2="181.30" stroke="#111" stroke-width="1.6"/>
<line x1="397.00" y1="239.10" x2="511.60" y2="239.10" stroke="#111" stroke-width="1.6"/>
<line x1="397.00" y1="200.70" x2="511.60" y2="200.70" stroke="#111" stroke-width="1.6"/>
<line x1="397.00" y1="219.90" x2="511.60" y2="219.90" stroke="#111" stroke-width="1.6"/>
<line x1="397.00" y1="180.50" x2="397.00" y2="239.90" stroke="#111" stroke-width="1.6"/>
<line x1="511.60" y1="180.50" x2="511.60" y2="239.90" stroke="#111" stroke-width="1.6"/>
<line x1="425.80" y1="181.30" x2="425.80" y2="239.10" stroke="#111" stroke-width="1.6"/>
<text x="411.40" y="198.10" font-size="11" text-anchor="middle" font-weight="normal" >GM</text>
<text x="428.40" y="198.10" font-size="11" text-anchor="start" font-weight="normal" >2</text>
<text x="457.00" y="198.10" font-size="11" text-anchor="start" font-weight="normal" >3</text>
<text x="485.30" y="198.10" font-size="11" text-anchor="start" font-weight="normal" >4</text>
<text x="411.40" y="217.30" font-size="11" text-anchor="middle" font-weight="normal" >DC</text>
<text x="428.40" y="217.30" font-size="11" text-anchor="start" font-weight="normal" >38</text>
<text x="457.00" y="217.30" font-size="11" text-anchor="start" font-weight="normal" >13</text>
<text x="485.30" y="217.30" font-size="11" text-anchor="start" font-weight="normal" >20</text>
<text x="411.40" y="236.50" font-size="11" text-anchor="middle" font-weight="normal" >B</text>
<text x="428.40" y="236.50" font-size="11" text-anchor="start" font-weight="normal" >0</text>
<text x="457.00" y="236.50" font-size="11" text-anchor="start" font-weight="normal" >5</text>
<text x="485.30" y="236.50" font-size="11" text-anchor="start" font-weight="normal" >2114</text>
<line x1="39.30" y1="433.50" x2="181.30" y2="433.50" stroke="#111" stroke-width="1.6"/>
<line x1="39.30" y1="489.00" x2="181.30" y2="489.00" stroke="#111" stroke-width="1.6"/>
<line x1="39.30" y1="451.40" x2="181.30" y2="451.40" stroke="#111" stroke-width="1.6"/>
<line x1="39.30" y1="470.30" x2="181.30" y2="470.30" stroke="#111" stroke-width="1.6"/>
<line x1="39.30" y1="432.70" x2="39.30" y2="489.80" stroke="#111" stroke-width="1.6"/>
<line x1="181.30" y1="432.70" x2="181.30" y2="489.80" stroke="#111" stroke-width="1.6"/>
<line x1="73.90" y1="433.50" x2="73.90" y2="489.00" stroke="#111" stroke-width="1.6"/>
<text x="56.60" y="448.40" font-size="11" text-anchor="middle" font-weight="normal" >GM</text>
<text x="78.20" y="448.40" font-size="11" text-anchor="start" font-weight="normal" >10</text>
<text x="106.60" y="448.40" font-size="11" text-anchor="start" font-weight="normal" >663</text>
<text x="140.20" y="448.40" font-size="11" text-anchor="start" font-weight="normal" >21022</text>
<text x="56.60" y="467.30" font-size="11" text-anchor="middle" font-weight="normal" >DC</text>
<text x="78.20" y="467.30" font-size="11" text-anchor="start" font-weight="normal" >14</text>
<text x="106.60" y="467.30" font-size="11" text-anchor="start" font-weight="normal" >778</text>
<text x="140.20" y="467.30" font-size="11" text-anchor="start" font-weight="normal" >12938</text>
<text x="56.60" y="486.00" font-size="11" text-anchor="middle" font-weight="normal" >B</text>
<text x="78.20" y="486.00" font-size="11" text-anchor="start" font-weight="normal" >2</text>
<text x="106.60" y="486.00" font-size="11" text-anchor="start" font-weight="normal" >63</text>
<text x="140.20" y="486.00" font-size="11" text-anchor="start" font-weight="normal" >99709</text>
<line x1="221.00" y1="433.50" x2="364.30" y2="433.50" stroke="#111" stroke-width="1.6"/>
<line x1="221.00" y1="489.00" x2="364.30" y2="489.00" stroke="#111" stroke-width="1.6"/>
<line x1="221.00" y1="451.40" x2="364.30" y2="451.40" stroke="#111" stroke-width="1.6"/>
<line x1="221.00" y1="470.30" x2="364.30" y2="470.30" stroke="#111" stroke-width="1.6"/>
<line x1="221.00" y1="432.70" x2="221.00" y2="489.80" stroke="#111" stroke-width="1.6"/>
<line x1="364.30" y1="432.70" x2="364.30" y2="489.80" stroke="#111" stroke-width="1.6"/>
<line x1="253.20" y1="433.50" x2="253.20" y2="489.00" stroke="#111" stroke-width="1.6"/>
<text x="237.10" y="448.40" font-size="11" text-anchor="middle" font-weight="normal" >GM</text>
<text x="257.10" y="448.40" font-size="11" text-anchor="start" font-weight="normal" >1</text>
<text x="283.10" y="448.40" font-size="11" text-anchor="start" font-weight="normal" >86</text>
<text x="320.30" y="448.40" font-size="11" text-anchor="start" font-weight="normal" >211</text>
<text x="237.10" y="467.30" font-size="11" text-anchor="middle" font-weight="normal" >DC</text>
<text x="257.10" y="467.30" font-size="11" text-anchor="start" font-weight="normal" >66</text>
<text x="283.10" y="467.30" font-size="11" text-anchor="start" font-weight="normal" >1380</text>
<text x="320.30" y="467.30" font-size="11" text-anchor="start" font-weight="normal" >1718</text>
<text x="237.10" y="486.00" font-size="11" text-anchor="middle" font-weight="normal" >B</text>
<text x="257.10" y="486.00" font-size="11" text-anchor="start" font-weight="normal" >53</text>
<text x="283.10" y="486.00" font-size="11" text-anchor="start" font-weight="normal" >1539</text>
<text x="320.30" y="486.00" font-size="11" text-anchor="start" font-weight="normal" >293922</text>
<line x1="393.10" y1="433.50" x2="514.50" y2="433.50" stroke="#111" stroke-width="1.6"/>
<line x1="393.10" y1="489.00" x2="514.50" y2="489.00" stroke="#111" stroke-width="1.6"/>
<line x1="393.10" y1="451.40" x2="514.50" y2="451.40" stroke="#111" stroke-width="1.6"/>
<line x1="393.10" y1="470.30" x2="514.50" y2="470.30" stroke="#111" stroke-width="1.6"/>
<line x1="393.10" y1="432.70" x2="393.10" y2="489.80" stroke="#111" stroke-width="1.6"/>
<line x1="514.50" y1="432.70" x2="514.50" y2="489.80" stroke="#111" stroke-width="1.6"/>
<line x1="426.30" y1="433.50" x2="426.30" y2="489.00" stroke="#111" stroke-width="1.6"/>
<text x="409.70" y="448.40" font-size="11" text-anchor="middle" font-weight="normal" >GM</text>
<text x="429.50" y="448.40" font-size="11" text-anchor="start" font-weight="normal" >6</text>
<text x="456.50" y="448.40" font-size="11" text-anchor="start" font-weight="normal" >22</text>
<text x="486.30" y="448.40" font-size="11" text-anchor="start" font-weight="normal" >11</text>
<text x="409.70" y="467.30" font-size="11" text-anchor="middle" font-weight="normal" >DC</text>
<text x="429.50" y="467.30" font-size="11" text-anchor="start" font-weight="normal" >17</text>
<text x="456.50" y="467.30" font-size="11" text-anchor="start" font-weight="normal" >186</text>
<text x="486.30" y="467.30" font-size="11" text-anchor="start" font-weight="normal" >137</text>
<text x="409.70" y="486.00" font-size="11" text-anchor="middle" font-weight="normal" >B</text>
<text x="429.50" y="486.00" font-size="11" text-anchor="start" font-weight="normal" >1</text>
<text x="456.50" y="486.00" font-size="11" text-anchor="start" font-weight="normal" >36</text>
<text x="486.30" y="486.00" font-size="11" text-anchor="start" font-weight="normal" >161</text>
<line x1="28.30" y1="689.90" x2="175.30" y2="689.90" stroke="#111" stroke-width="1.6"/>
<line x1="28.30" y1="785.90" x2="175.30" y2="785.90" stroke="#111" stroke-width="1.6"/>
<line x1="28.30" y1="709.00" x2="175.30" y2="709.00" stroke="#111" stroke-width="1.6"/>
<line x1="28.30" y1="728.30" x2="175.30" y2="728.30" stroke="#111" stroke-width="1.6"/>
<line x1="28.30" y1="747.80" x2="175.30" y2="747.80" stroke="#111" stroke-width="1.6"/>
<line x1="28.30" y1="767.00" x2="175.30" y2="767.00" stroke="#111" stroke-width="1.6"/>
<line x1="28.30" y1="689.10" x2="28.30" y2="786.70" stroke="#111" stroke-width="1.6"/>
<line x1="175.30" y1="689.10" x2="175.30" y2="786.70" stroke="#111" stroke-width="1.6"/>
<line x1="81.60" y1="689.90" x2="81.60" y2="785.90" stroke="#111" stroke-width="1.6"/>
<text x="54.95" y="706.00" font-size="11" text-anchor="middle" font-weight="normal" >GM</text>
<text x="85.60" y="706.00" font-size="11" text-anchor="start" font-weight="normal" >0</text>
<text x="115.40" y="706.00" font-size="11" text-anchor="start" font-weight="normal" >0</text>
<text x="146.70" y="706.00" font-size="11" text-anchor="start" font-weight="normal" >38</text>
<text x="54.95" y="725.30" font-size="11" text-anchor="middle" font-weight="normal" >DC</text>
<text x="85.60" y="725.30" font-size="11" text-anchor="start" font-weight="normal" >0</text>
<text x="115.40" y="725.30" font-size="11" text-anchor="start" font-weight="normal" >8</text>
<text x="146.70" y="725.30" font-size="11" text-anchor="start" font-weight="normal" >944</text>
<text x="54.95" y="744.80" font-size="11" text-anchor="middle" font-weight="normal" >B</text>
<text x="85.60" y="744.80" font-size="11" text-anchor="start" font-weight="normal" >0</text>
<text x="115.40" y="744.80" font-size="11" text-anchor="start" font-weight="normal" >0</text>
<text x="146.70" y="744.80" font-size="11" text-anchor="start" font-weight="normal" >49</text>
<text x="55.45" y="764.00" font-size="11" text-anchor="middle">T, CD4<tspan font-size="7" dy="-4">+</tspan></text>
<text x="85.60" y="764.00" font-size="11" text-anchor="start" font-weight="normal" >0</text>
<text x="115.40" y="764.00" font-size="11" text-anchor="start" font-weight="normal" >1</text>
<text x="146.70" y="764.00" font-size="11" text-anchor="start" font-weight="normal" >860</text>
<text x="55.25" y="782.90" font-size="11" text-anchor="middle" textLength="45.5" lengthAdjust="spacingAndGlyphs">T, CD25+</text>
<text x="85.60" y="782.90" font-size="11" text-anchor="start" font-weight="normal" >0</text>
<text x="115.40" y="782.90" font-size="11" text-anchor="start" font-weight="normal" >1</text>
<text x="146.70" y="782.90" font-size="11" text-anchor="start" font-weight="normal" >696</text>
<line x1="201.60" y1="689.90" x2="347.20" y2="689.90" stroke="#111" stroke-width="1.6"/>
<line x1="201.60" y1="785.90" x2="347.20" y2="785.90" stroke="#111" stroke-width="1.6"/>
<line x1="201.60" y1="709.00" x2="347.20" y2="709.00" stroke="#111" stroke-width="1.6"/>
<line x1="201.60" y1="728.30" x2="347.20" y2="728.30" stroke="#111" stroke-width="1.6"/>
<line x1="201.60" y1="747.80" x2="347.20" y2="747.80" stroke="#111" stroke-width="1.6"/>
<line x1="201.60" y1="767.00" x2="347.20" y2="767.00" stroke="#111" stroke-width="1.6"/>
<line x1="201.60" y1="689.10" x2="201.60" y2="786.70" stroke="#111" stroke-width="1.6"/>
<line x1="347.20" y1="689.10" x2="347.20" y2="786.70" stroke="#111" stroke-width="1.6"/>
<line x1="255.00" y1="689.90" x2="255.00" y2="785.90" stroke="#111" stroke-width="1.6"/>
<text x="228.30" y="706.00" font-size="11" text-anchor="middle" font-weight="normal" >GM</text>
<text x="259.10" y="706.00" font-size="11" text-anchor="start" font-weight="normal" >0</text>
<text x="290.50" y="706.00" font-size="11" text-anchor="start" font-weight="normal" >0</text>
<text x="319.70" y="706.00" font-size="11" text-anchor="start" font-weight="normal" >0</text>
<text x="228.30" y="725.30" font-size="11" text-anchor="middle" font-weight="normal" >DC</text>
<text x="259.10" y="725.30" font-size="11" text-anchor="start" font-weight="normal" >2</text>
<text x="290.50" y="725.30" font-size="11" text-anchor="start" font-weight="normal" >32</text>
<text x="319.70" y="725.30" font-size="11" text-anchor="start" font-weight="normal" >130</text>
<text x="228.30" y="744.80" font-size="11" text-anchor="middle" font-weight="normal" >B</text>
<text x="259.10" y="744.80" font-size="11" text-anchor="start" font-weight="normal" >0</text>
<text x="290.50" y="744.80" font-size="11" text-anchor="start" font-weight="normal" >0</text>
<text x="319.70" y="744.80" font-size="11" text-anchor="start" font-weight="normal" >75</text>
<text x="228.80" y="764.00" font-size="11" text-anchor="middle">T, CD4<tspan font-size="7" dy="-4">+</tspan></text>
<text x="259.10" y="764.00" font-size="11" text-anchor="start" font-weight="normal" >0</text>
<text x="290.50" y="764.00" font-size="11" text-anchor="start" font-weight="normal" >0</text>
<text x="319.70" y="764.00" font-size="11" text-anchor="start" font-weight="normal" >8520</text>
<text x="228.60" y="782.90" font-size="11" text-anchor="middle" textLength="45.5" lengthAdjust="spacingAndGlyphs">T, CD25+</text>
<text x="259.10" y="782.90" font-size="11" text-anchor="start" font-weight="normal" >0</text>
<text x="290.50" y="782.90" font-size="11" text-anchor="start" font-weight="normal" >2</text>
<text x="319.70" y="782.90" font-size="11" text-anchor="start" font-weight="normal" >121</text>
<line x1="373.00" y1="689.90" x2="516.30" y2="689.90" stroke="#111" stroke-width="1.6"/>
<line x1="373.00" y1="785.90" x2="516.30" y2="785.90" stroke="#111" stroke-width="1.6"/>
<line x1="373.00" y1="709.00" x2="516.30" y2="709.00" stroke="#111" stroke-width="1.6"/>
<line x1="373.00" y1="728.30" x2="516.30" y2="728.30" stroke="#111" stroke-width="1.6"/>
<line x1="373.00" y1="747.80" x2="516.30" y2="747.80" stroke="#111" stroke-width="1.6"/>
<line x1="373.00" y1="767.00" x2="516.30" y2="767.00" stroke="#111" stroke-width="1.6"/>
<line x1="373.00" y1="689.10" x2="373.00" y2="786.70" stroke="#111" stroke-width="1.6"/>
<line x1="516.30" y1="689.10" x2="516.30" y2="786.70" stroke="#111" stroke-width="1.6"/>
<line x1="425.40" y1="689.90" x2="425.40" y2="785.90" stroke="#111" stroke-width="1.6"/>
<text x="399.20" y="706.00" font-size="11" text-anchor="middle" font-weight="normal" >GM</text>
<text x="428.60" y="706.00" font-size="11" text-anchor="start" font-weight="normal" >1</text>
<text x="460.40" y="706.00" font-size="11" text-anchor="start" font-weight="normal" >0</text>
<text x="493.50" y="706.00" font-size="11" text-anchor="start" font-weight="normal" >0</text>
<text x="399.20" y="725.30" font-size="11" text-anchor="middle" font-weight="normal" >DC</text>
<text x="428.60" y="725.30" font-size="11" text-anchor="start" font-weight="normal" >5</text>
<text x="460.40" y="725.30" font-size="11" text-anchor="start" font-weight="normal" >2</text>
<text x="493.50" y="725.30" font-size="11" text-anchor="start" font-weight="normal" >2</text>
<text x="399.20" y="744.80" font-size="11" text-anchor="middle" font-weight="normal" >B</text>
<text x="428.60" y="744.80" font-size="11" text-anchor="start" font-weight="normal" >0</text>
<text x="460.40" y="744.80" font-size="11" text-anchor="start" font-weight="normal" >0</text>
<text x="493.50" y="744.80" font-size="11" text-anchor="start" font-weight="normal" >0</text>
<text x="399.70" y="764.00" font-size="11" text-anchor="middle">T, CD4<tspan font-size="7" dy="-4">+</tspan></text>
<text x="428.60" y="764.00" font-size="11" text-anchor="start" font-weight="normal" >0</text>
<text x="460.40" y="764.00" font-size="11" text-anchor="start" font-weight="normal" >1</text>
<text x="493.50" y="764.00" font-size="11" text-anchor="start" font-weight="normal" >139</text>
<text x="399.50" y="782.90" font-size="11" text-anchor="middle" textLength="45.5" lengthAdjust="spacingAndGlyphs">T, CD25+</text>
<text x="428.60" y="782.90" font-size="11" text-anchor="start" font-weight="normal" >0</text>
<text x="460.40" y="782.90" font-size="11" text-anchor="start" font-weight="normal" >1</text>
<text x="493.50" y="782.90" font-size="11" text-anchor="start" font-weight="normal" >1</text>
</svg>
</body></html>
